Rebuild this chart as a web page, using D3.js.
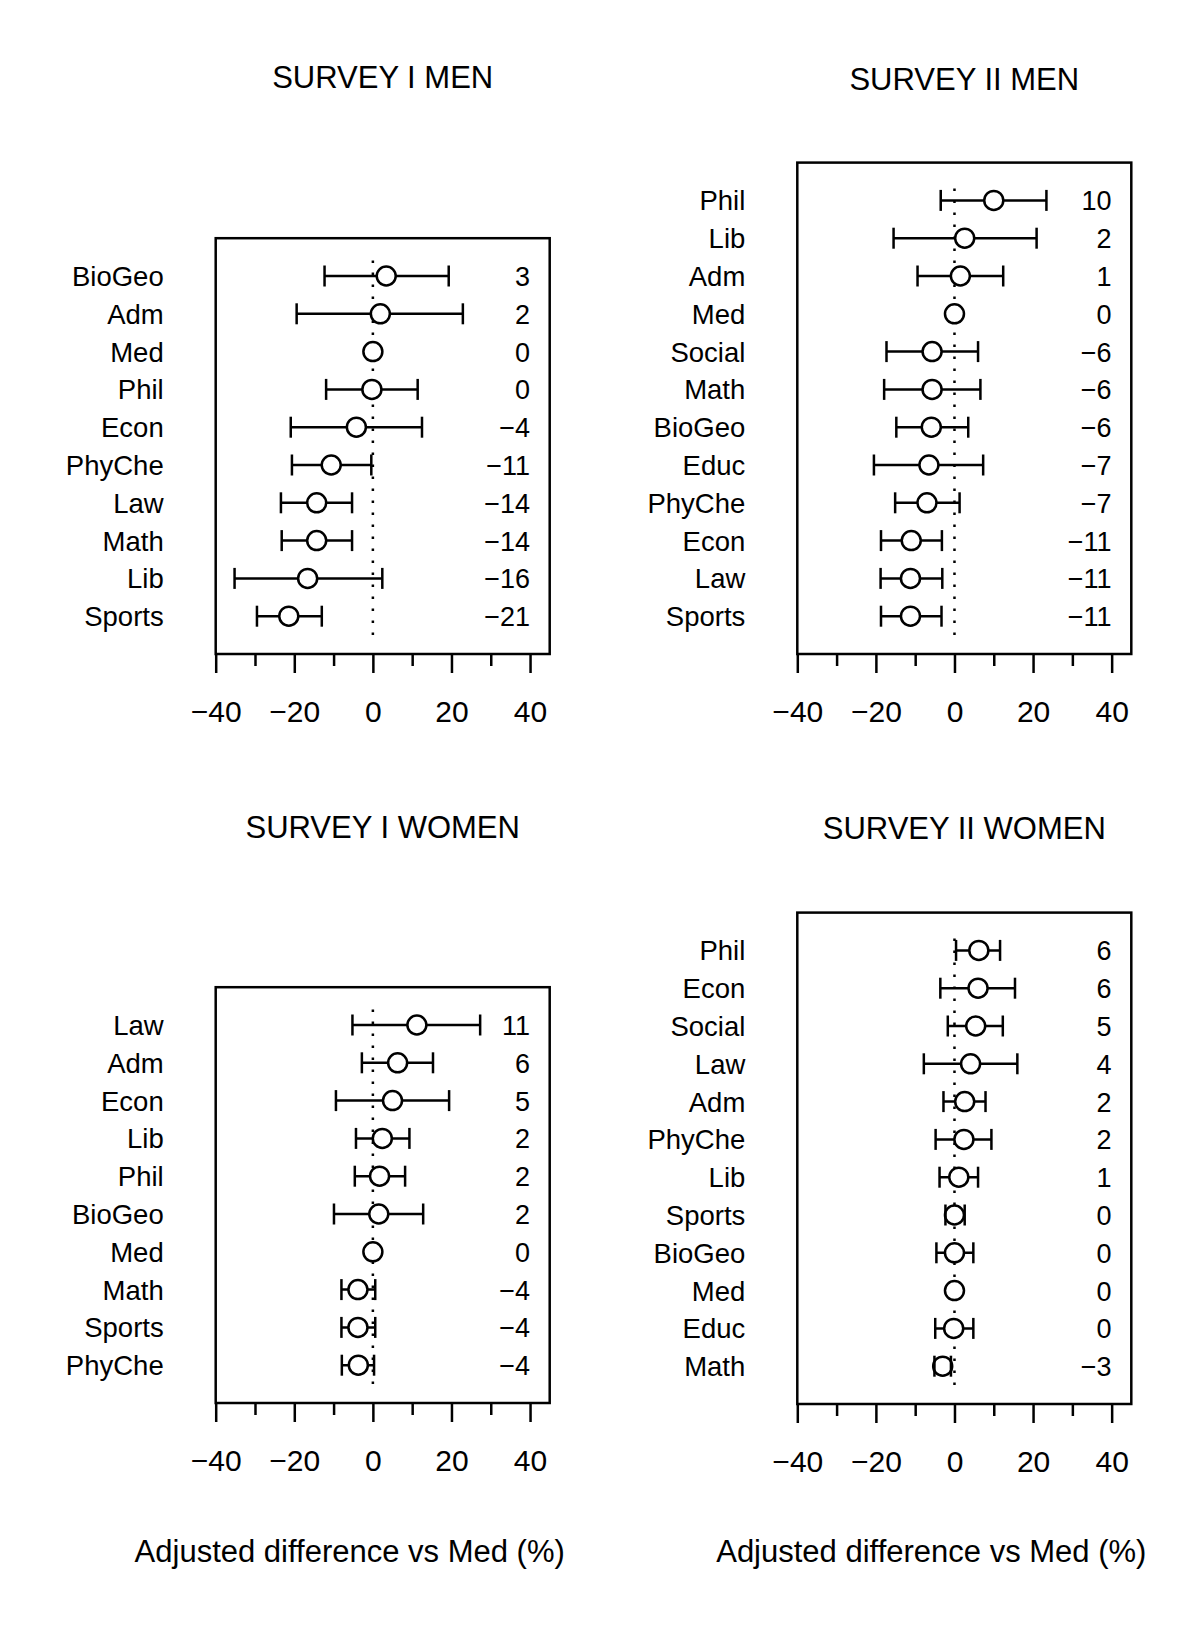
<!DOCTYPE html>
<html>
<head>
<meta charset="utf-8">
<script src="https://cdn.jsdelivr.net/npm/d3@7"></script>
<style>
  body { margin: 0; background: #fff; }
  text { font-family: "Liberation Sans", Arial, Helvetica, sans-serif; fill: #000; }
</style>
</head>
<body>
<div id="chart-area"></div>
<script>
// Survey I men
var s1MenCats = ["BioGeo", "Adm", "Med", "Phil", "Econ", "PhyChe", "Law", "Math", "Lib", "Sports"];
var s1MenEst  = [3.4, 1.9, 0, -0.25, -4.2, -10.6, -14.3, -14.3, -16.6, -21.4];
var s1MenLo   = [-12.3, -19.4, null, -11.9, -20.9, -20.6, -23.4, -23.2, -35.2, -29.5];
var s1MenHi   = [19.3, 22.9, null, 11.4, 12.5, -0.4, -5.3, -5.3, 2.4, -13.0];
var s1MenLab  = [3, 2, 0, 0, -4, -11, -14, -14, -16, -21];

// Survey II men
var s2MenCats = ["Phil", "Lib", "Adm", "Med", "Social", "Math", "BioGeo", "Educ", "PhyChe", "Econ", "Law", "Sports"];
var s2MenEst  = [10.0, 2.6, 1.5, 0, -5.7, -5.7, -5.9, -6.5, -7.0, -11.0, -11.2, -11.2];
var s2MenLo   = [-3.5, -15.5, -9.4, null, -17.3, -17.9, -14.8, -20.5, -15.1, -18.7, -18.8, -18.7];
var s2MenHi   = [23.4, 20.9, 12.4, null, 6.0, 6.6, 3.5, 7.3, 1.3, -3.2, -3.1, -3.3];
var s2MenLab  = [10, 2, 1, 0, -6, -6, -6, -7, -7, -11, -11, -11];

// Survey I women
var s1WomenCats = ["Law", "Adm", "Econ", "Lib", "Phil", "BioGeo", "Med", "Math", "Sports", "PhyChe"];
var s1WomenEst  = [11.2, 6.3, 5.0, 2.4, 1.7, 1.5, 0, -3.8, -3.8, -3.7];
var s1WomenLo   = [-5.2, -2.8, -9.4, -4.3, -4.6, -9.9, null, -8.0, -8.0, -7.9];
var s1WomenHi   = [27.3, 15.3, 19.4, 9.3, 8.2, 12.8, null, 0.6, 0.6, 0.3];
var s1WomenLab  = [11, 6, 5, 2, 2, 2, 0, -4, -4, -4];

// Survey II women
var s2WomenCats = ["Phil", "Econ", "Social", "Law", "Adm", "PhyChe", "Lib", "Sports", "BioGeo", "Med", "Educ", "Math"];
var s2WomenEst  = [6.2, 6.0, 5.4, 4.1, 2.6, 2.4, 1.1, 0, 0, 0, -0.2, -3.0];
var s2WomenLo   = [0.4, -3.6, -1.7, -7.8, -2.8, -4.8, -3.8, -2.3, -4.6, null, -4.9, -5.1];
var s2WomenHi   = [11.6, 15.4, 12.3, 16.0, 7.9, 9.4, 6.0, 2.6, 4.8, null, 4.8, -0.9];
var s2WomenLab  = [6, 6, 5, 4, 2, 2, 1, 0, 0, 0, 0, -3];

var majorTicks = [-40, -20, 0, 20, 40];
var minorTicks = [-30, -10, 10, 30];
var xLabel = "Adjusted difference vs Med (%)";

var panels = [
  { title: "SURVEY I MEN", cats: s1MenCats, est: s1MenEst, lo: s1MenLo, hi: s1MenHi, lab: s1MenLab,
    left: 215.7, bottom: 654, titleY: 88, xlab: false },
  { title: "SURVEY II MEN", cats: s2MenCats, est: s2MenEst, lo: s2MenLo, hi: s2MenHi, lab: s2MenLab,
    left: 797.3, bottom: 654, titleY: 90, xlab: false },
  { title: "SURVEY I WOMEN", cats: s1WomenCats, est: s1WomenEst, lo: s1WomenLo, hi: s1WomenHi, lab: s1WomenLab,
    left: 215.7, bottom: 1403, titleY: 838, xlab: true },
  { title: "SURVEY II WOMEN", cats: s2WomenCats, est: s2WomenEst, lo: s2WomenLo, hi: s2WomenHi, lab: s2WomenLab,
    left: 797.3, bottom: 1404, titleY: 839, xlab: true }
];

var W = 1200, H = 1643;
var boxWidth = 334;
var rowStep = 37.8;
var lw = 2.5;
var r = 9.5;
var capHalf = 10.5;

var svg = d3.select("#chart-area").append("svg")
  .attr("width", W)
  .attr("height", H);

function fmt(v) {
  return v < 0 ? "\u2212" + Math.abs(v) : String(v);
}

panels.forEach(function(p) {
  var n = p.cats.length;
  var top = p.bottom - (n + 1) * rowStep;

  var x = d3.scaleLinear()
    .domain([-40, 45])
    .range([p.left, p.left + boxWidth]);

  var y = d3.scaleLinear()
    .domain([0, n + 1])
    .range([top, p.bottom]);

  var g = svg.append("g");

  var rows = p.cats.map(function(c, i) {
    return { cat: c, est: p.est[i], lo: p.lo[i], hi: p.hi[i], lab: p.lab[i], pos: i + 1 };
  });

  // title
  g.append("text")
    .attr("x", p.left + boxWidth / 2)
    .attr("y", p.titleY)
    .attr("text-anchor", "middle")
    .attr("font-size", "31px")
    .text(p.title);

  // dotted zero line
  g.append("line")
    .attr("x1", x(0)).attr("x2", x(0))
    .attr("y1", y(n + 0.5)).attr("y2", y(0.5))
    .attr("stroke", "#000")
    .attr("stroke-width", lw)
    .attr("stroke-dasharray", "2.5 9.5");

  // box
  g.append("rect")
    .attr("x", p.left)
    .attr("y", top)
    .attr("width", boxWidth)
    .attr("height", p.bottom - top)
    .attr("fill", "none")
    .attr("stroke", "#000")
    .attr("stroke-width", lw);

  // error bars
  var bars = rows.filter(function(d) { return d.lo !== null; });

  g.selectAll(".bar")
    .data(bars)
    .enter()
    .append("line")
    .attr("class", "bar")
    .attr("x1", function(d) { return x(d.lo); })
    .attr("x2", function(d) { return x(d.hi); })
    .attr("y1", function(d) { return y(d.pos); })
    .attr("y2", function(d) { return y(d.pos); })
    .attr("stroke", "#000")
    .attr("stroke-width", lw);

  // points
  g.selectAll(".pt")
    .data(rows)
    .enter()
    .append("circle")
    .attr("class", "pt")
    .attr("cx", function(d) { return x(d.est); })
    .attr("cy", function(d) { return y(d.pos); })
    .attr("r", r)
    .attr("fill", "#fff")
    .attr("stroke", "#000")
    .attr("stroke-width", lw);

  // caps
  ["lo", "hi"].forEach(function(k) {
    g.selectAll(".cap-" + k)
      .data(bars)
      .enter()
      .append("line")
      .attr("class", "cap-" + k)
      .attr("x1", function(d) { return x(d[k]); })
      .attr("x2", function(d) { return x(d[k]); })
      .attr("y1", function(d) { return y(d.pos) - capHalf; })
      .attr("y2", function(d) { return y(d.pos) + capHalf; })
      .attr("stroke", "#000")
      .attr("stroke-width", lw);
  });

  // category labels
  g.selectAll(".cat")
    .data(rows)
    .enter()
    .append("text")
    .attr("class", "cat")
    .attr("x", p.left - 52)
    .attr("y", function(d) { return y(d.pos) + 10; })
    .attr("text-anchor", "end")
    .attr("font-size", "27.5px")
    .text(function(d) { return d.cat; });

  // value labels
  g.selectAll(".val")
    .data(rows)
    .enter()
    .append("text")
    .attr("class", "val")
    .attr("x", x(40))
    .attr("y", function(d) { return y(d.pos) + 10; })
    .attr("text-anchor", "end")
    .attr("font-size", "27px")
    .text(function(d) { return fmt(d.lab); });

  // x axis: major ticks with labels
  var majorAxis = d3.axisBottom(x)
    .tickValues(majorTicks)
    .tickSize(19)
    .tickPadding(30)
    .tickFormat(fmt);
  var ax = g.append("g")
    .attr("transform", "translate(0," + p.bottom + ")")
    .call(majorAxis);
  ax.select(".domain").remove();
  ax.selectAll("line").attr("stroke-width", lw);
  ax.selectAll("text")
    .attr("font-size", "30px")
    .attr("font-family", "Liberation Sans, Arial, sans-serif")
    .attr("dy", "0");
  ax.selectAll("text").attr("y", 68);

  // minor ticks
  var minorAxis = d3.axisBottom(x)
    .tickValues(minorTicks)
    .tickSize(12)
    .tickFormat("");
  var mx = g.append("g")
    .attr("transform", "translate(0," + p.bottom + ")")
    .call(minorAxis);
  mx.select(".domain").remove();
  mx.selectAll("line").attr("stroke-width", lw);

  // x label
  if (p.xlab) {
    g.append("text")
      .attr("x", p.left + boxWidth / 2 - 33)
      .attr("y", 1562)
      .attr("text-anchor", "middle")
      .attr("font-size", "31px")
      .text(xLabel);
  }
});
</script>
</body>
</html>
